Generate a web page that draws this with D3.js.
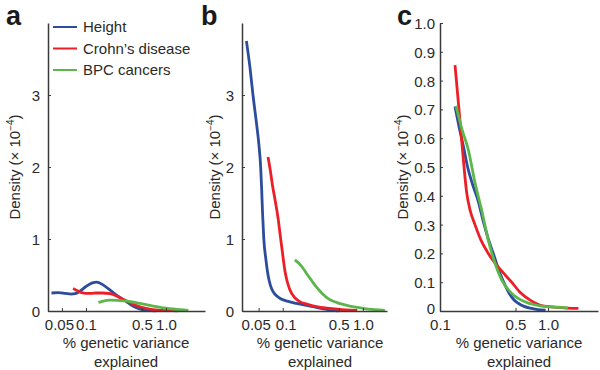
<!DOCTYPE html>
<html>
<head>
<meta charset="utf-8">
<script src="https://cdn.jsdelivr.net/npm/d3@7"></script>
<style>
  html, body { margin: 0; padding: 0; background: #fff; }
  svg { display: block; font-family: "Liberation Sans", Arial, Helvetica, sans-serif; }
</style>
</head>
<body>
<svg id="chart" width="600" height="370"></svg>
<script>
// ---------- DATA ----------
const seriesNames = ["Height", "Crohn\u2019s disease", "BPC cancers"];
const seriesColors = ["#2c4c9c", "#ec1f27", "#5db64c"];
const panelLetters = ["a", "b", "c"];

const xTickValuesAB = [0.05, 0.1, 0.5, 1.0];
const xTickLabelsAB = ["0.05", "0.1", "0.5", "1.0"];
const xTickValuesC = [0.1, 0.5, 1.0];
const xTickLabelsC = ["0.1", "0.5", "1.0"];
const yTickValuesAB = [0, 1, 2, 3];
const yTickLabelsAB = ["0", "1", "2", "3"];
const yTickValuesC = [0, 0.1, 0.2, 0.3, 0.4, 0.5, 0.6, 0.7, 0.8, 0.9, 1.0];
const yTickLabelsC = ["0", "0.1", "0.2", "0.3", "0.4", "0.5", "0.6", "0.7", "0.8", "0.9", "1.0"];

// [% genetic variance explained, density x10^-4]
const aHeight = [[0.037,0.25],[0.045,0.255],[0.055,0.245],[0.065,0.235],[0.073,0.24],[0.085,0.28],[0.1,0.34],[0.12,0.39],[0.136,0.40],[0.16,0.37],[0.19,0.31],[0.24,0.22],[0.3,0.15],[0.36,0.09],[0.42,0.05],[0.5,0.02],[0.6,0.008],[0.75,0.003]];
const aCrohn = [[0.069,0.315],[0.078,0.28],[0.088,0.255],[0.1,0.245],[0.115,0.245],[0.135,0.25],[0.16,0.25],[0.2,0.24],[0.24,0.21],[0.28,0.17],[0.35,0.12],[0.45,0.065],[0.6,0.03],[0.8,0.012],[1.1,0.005],[1.4,0.002]];
const aBPC = [[0.143,0.12],[0.16,0.135],[0.2,0.15],[0.25,0.148],[0.3,0.14],[0.38,0.125],[0.47,0.105],[0.6,0.08],[0.77,0.06],[1.0,0.04],[1.22,0.028],[1.5,0.018],[1.9,0.01]];

const bHeight = [[0.0352,3.75],[0.039,3.38],[0.0425,3.0],[0.0465,2.65],[0.0505,2.3],[0.053,2.0],[0.0545,1.7],[0.056,1.35],[0.058,1.0],[0.0615,0.72],[0.0655,0.5],[0.07,0.36],[0.0757,0.27],[0.085,0.205],[0.094,0.17],[0.12,0.13],[0.148,0.105],[0.19,0.08],[0.239,0.06],[0.29,0.04],[0.351,0.024],[0.42,0.01],[0.5,0.003]];
const bCrohn = [[0.0655,2.14],[0.07,1.95],[0.0743,1.75],[0.08,1.55],[0.0874,1.29],[0.093,1.05],[0.1,0.78],[0.106,0.57],[0.113,0.42],[0.1223,0.3],[0.14,0.19],[0.163,0.13],[0.2,0.095],[0.264,0.06],[0.351,0.04],[0.45,0.028],[0.55,0.02],[0.687,0.013],[0.85,0.008]];
const bBPC = [[0.1413,0.708],[0.16,0.66],[0.18,0.59],[0.198,0.52],[0.23,0.42],[0.264,0.33],[0.3,0.26],[0.351,0.19],[0.4,0.15],[0.468,0.12],[0.55,0.095],[0.687,0.068],[0.85,0.05],[1.01,0.037],[1.3,0.022],[1.63,0.014],[1.88,0.01]];

const cHeight = [[0.1377,0.71],[0.15,0.64],[0.165,0.57],[0.18,0.5],[0.2,0.44],[0.2264,0.38],[0.2518,0.31],[0.28,0.25],[0.3113,0.2],[0.3594,0.13],[0.4,0.09],[0.4289,0.067],[0.48,0.04],[0.53,0.027],[0.6,0.016],[0.7066,0.009],[0.8077,0.005],[0.95,0.003]];
const cCrohn = [[0.1377,0.854],[0.145,0.76],[0.1531,0.66],[0.165,0.52],[0.1767,0.41],[0.19,0.35],[0.2107,0.3],[0.24,0.245],[0.28,0.2],[0.36,0.145],[0.461,0.1],[0.55,0.065],[0.7,0.035],[0.85,0.02],[1.08,0.014],[1.4,0.011],[1.91,0.009]];
const cBPC = [[0.1406,0.712],[0.16,0.63],[0.1828,0.56],[0.2109,0.445],[0.2432,0.35],[0.2799,0.246],[0.3229,0.166],[0.372,0.108],[0.4614,0.061],[0.612,0.032],[0.8732,0.017],[1.25,0.013],[1.53,0.011]];

// ---------- LAYOUT ----------
const svg = d3.select("#chart");
const yTop = 23, yBottom = 311;
const textColor = "#2a2a2a";
const axisColor = "#3a3a3a";

const panels = [
  { letter: panelLetters[0], letterX: 6, x0: 48, x1: 205, xDomain: [0.0335, 3.07], yMax: 4,
    xTicks: xTickValuesAB, xLabels: xTickLabelsAB, xShift: [-3, 0, 0, 0],
    yTicks: yTickValuesAB, yLabels: yTickLabelsAB, yPad: 8, zeroLift: 0,
    data: [aHeight, aCrohn, aBPC], yLabelX: 20, titleX: 126, legend: true },
  { letter: panelLetters[1], letterX: 201, x0: 242, x1: 387, xDomain: [0.031, 2.0], yMax: 4,
    xTicks: xTickValuesAB, xLabels: xTickLabelsAB, xShift: [-3, 3, 0, 0],
    yTicks: yTickValuesAB, yLabels: yTickLabelsAB, yPad: 8, zeroLift: 0,
    data: [bHeight, bCrohn, bBPC], yLabelX: 220, titleX: 320, legend: false },
  { letter: panelLetters[2], letterX: 397, x0: 440, x1: 598, xDomain: [0.1, 2.9], yMax: 1,
    xTicks: xTickValuesC, xLabels: xTickLabelsC, xShift: [0, 0, 0],
    yTicks: yTickValuesC, yLabels: yTickLabelsC, yPad: 5, zeroLift: 3,
    data: [cHeight, cCrohn, cBPC], yLabelX: 408, titleX: 519, legend: false }
];

panels.forEach(p => {
  const g = svg.append("g");
  const x = d3.scaleLog().domain(p.xDomain).range([p.x0, p.x1]);
  const y = d3.scaleLinear().domain([0, p.yMax]).range([yBottom, yTop]);

  // curves
  const line = d3.line().x(d => x(d[0])).y(d => y(d[1])).curve(d3.curveMonotoneX);
  p.data.forEach((s, i) => {
    g.append("path").datum(s)
      .attr("d", line)
      .attr("fill", "none")
      .attr("stroke", seriesColors[i])
      .attr("stroke-width", 2.8)
      .attr("stroke-linecap", "butt")
      .attr("stroke-linejoin", "round");
  });

  // y axis
  const yAxis = d3.axisLeft(y).tickValues(p.yTicks)
    .tickFormat((d, i) => p.yLabels[i]).tickSizeInner(-3).tickSizeOuter(0).tickPadding(p.yPad);
  const ya = g.append("g").attr("transform", `translate(${p.x0},0)`).call(yAxis);
  // x axis
  const xAxis = d3.axisBottom(x).tickValues(p.xTicks)
    .tickFormat((d, i) => p.xLabels[i]).tickSizeInner(-3).tickSizeOuter(0).tickPadding(8);
  const xa = g.append("g").attr("transform", `translate(0,${yBottom})`).call(xAxis);

  [ya, xa].forEach(a => {
    a.select(".domain").attr("stroke", axisColor).attr("stroke-width", 1.5);
    a.selectAll(".tick line").attr("stroke", axisColor).attr("stroke-width", 1);
    a.selectAll(".tick text").attr("fill", textColor).attr("font-size", 15)
      .attr("font-family", "'Liberation Sans', Arial, sans-serif");
  });
  ya.selectAll(".tick text").attr("dy", "0.36em")
    .attr("y", (d, i) => (i === 0 ? -p.zeroLift : 0));
  xa.selectAll(".tick text").attr("dx", (d, i) => p.xShift[i]);

  // y-axis label
  const yl = g.append("text")
    .attr("transform", `translate(${p.yLabelX},${(yTop + yBottom) / 2}) rotate(-90)`)
    .attr("text-anchor", "middle")
    .attr("font-size", 15)
    .attr("fill", textColor);
  yl.append("tspan").text("Density (\u00d7 10");
  yl.append("tspan").text("\u22124").attr("font-size", 10).attr("dy", -6);
  yl.append("tspan").text(")").attr("dy", 6);

  // x-axis title
  const xt = g.append("text")
    .attr("text-anchor", "middle").attr("font-size", 15).attr("fill", textColor);
  xt.append("tspan").attr("x", p.titleX).attr("y", 348).text("% genetic variance");
  xt.append("tspan").attr("x", p.titleX).attr("y", 367).text("explained");

  // panel letter
  g.append("text").attr("x", p.letterX).attr("y", 25)
    .attr("font-size", 27).attr("font-weight", "bold").attr("fill", "#1a1a1a")
    .text(p.letter);

  // legend
  if (p.legend) {
    const ly = [27, 48.5, 70];
    seriesNames.forEach((n, i) => {
      g.append("line").attr("x1", 53).attr("x2", 77).attr("y1", ly[i]).attr("y2", ly[i])
        .attr("stroke", seriesColors[i]).attr("stroke-width", 2);
      g.append("text").attr("x", 83).attr("y", ly[i]).attr("dy", "0.35em")
        .attr("font-size", 15).attr("fill", textColor).text(n);
    });
  }
});
</script>
</body>
</html>
